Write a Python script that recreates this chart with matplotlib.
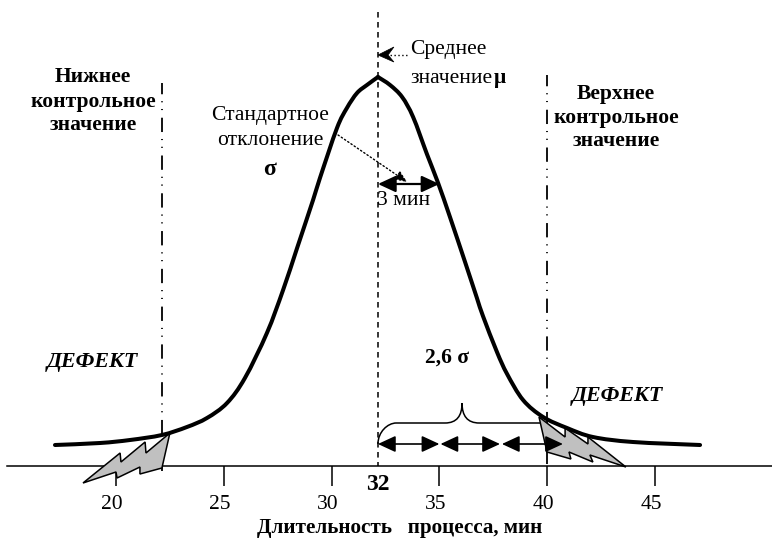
import matplotlib
matplotlib.use("Agg")
import matplotlib.pyplot as plt
from matplotlib.path import Path
from matplotlib.patches import PathPatch, Polygon
from matplotlib.transforms import Affine2D, ScaledTranslation

plt.rcParams['font.family'] = ['Liberation Serif', 'DejaVu Serif']
plt.rcParams['lines.scale_dashes'] = False

# Curve: process duration (min), relative height
left_x = [17.17, 19.26, 20.65, 22.13, 23.29, 24.22, 25.15, 25.98, 27.00, 27.75, 28.40, 29.14,
          29.46, 30.25, 30.71, 31.18, 31.64, 32.15]
left_y = [21, 23, 26, 31, 39, 48, 63, 88, 133, 176, 218, 266,
          288, 338, 358, 373, 381, 389]
right_x = [32.15, 32.71, 33.27, 33.78, 34.42, 34.94, 35.49, 36.19, 36.74, 37.02, 37.67, 38.14,
           38.88, 39.81, 40.92, 42.12, 43.98, 47.09]
right_y = [389, 381, 369, 349, 312, 283, 249, 204, 168, 150, 114, 92,
           66, 49, 38, 29, 24, 21]

tick_values = [20, 25, 30, 35, 40, 45]
tick_labels = ['20', '25', '30', '35', '40', '45']
mean_value = 32.15
mean_label = '32'
lower_limit = 22.13
upper_limit = 39.99

left_bolt_x = [22.50, 22.13, 21.11, 21.11, 20.05, 20.00, 18.47, 20.19, 20.23, 21.35, 21.39]
left_bolt_y = [33, -2, -8, -1, -12, -6, -17, 13, 4, 24, 13]
right_bolt_x = [39.62, 39.99, 41.10, 41.01, 42.12, 41.98, 43.65, 41.89, 41.89, 40.83, 40.83]
right_bolt_y = [49, 14, 7, 14, 4, 11, -1, 29, 22, 38, 29]

sigma_span = [32.15, 35.0]
chain_spans = [(32.15, 35.0), (35.05, 37.81), (37.90, 40.73)]
chain_h = 22
sigma_h = 282

W, H = 772, 539
fig = plt.figure(figsize=(W / 100, H / 100), dpi=100)
ax = fig.add_axes([0, 0, 1, 1])
ax.set_xlim(20 - 116 / 21.56, 20 + (W - 116) / 21.56)
ax.set_ylim(466 - H, 466)
for s in ['top', 'left', 'right']:
    ax.spines[s].set_visible(False)
ax.spines['bottom'].set_position(('data', 0))
ax.spines['bottom'].set_linewidth(1.1)
ax.spines['bottom'].set_bounds(14.95, ax.get_xlim()[1])
ax.yaxis.set_visible(False)
ax.patch.set_visible(False)
ax.set_xticks(tick_values)
ax.set_xticklabels(tick_labels, fontsize=15.5)
ax.tick_params(axis='x', length=14.4, width=1.1, pad=6.5)
shift = ScaledTranslation(-4 / 100, 0, fig.dpi_scale_trans)
for lab in ax.get_xticklabels():
    lab.set_transform(lab.get_transform() + shift)

PX = Affine2D().scale(1, -1).translate(0, H)


def txt(x, y, s, dy=2.5, **kw):
    kw.setdefault('ha', 'center')
    kw.setdefault('va', 'center')
    kw.setdefault('fontsize', 15.5)
    ax.text(x, y + dy, s, transform=PX, **kw)


def smooth(xs, ys):
    """Cubic Bezier path passing through every read point."""
    pts = list(zip(xs, ys))
    verts, codes = [pts[0]], [Path.MOVETO]
    for i in range(len(pts) - 1):
        p0 = pts[max(i - 1, 0)]
        p1 = pts[i]
        p2 = pts[i + 1]
        p3 = pts[min(i + 2, len(pts) - 1)]
        verts += [(p1[0] + (p2[0] - p0[0]) / 6, p1[1] + (p2[1] - p0[1]) / 6),
                  (p2[0] - (p3[0] - p1[0]) / 6, p2[1] - (p3[1] - p1[1]) / 6),
                  p2]
        codes += [Path.CURVE4] * 3
    return Path(verts, codes)


# Reference lines (drawn from the top down)
ax.plot([mean_value, mean_value], [454, 0], color='k', lw=1.1, ls=(0, (4.0, 3.2)), zorder=2)
dd = (2.2, (10.3, 5.0, 0.8, 4.8, 0.8, 5.5))
ax.plot([lower_limit, lower_limit], [383, -5], color='k', lw=1.3, ls=dd, zorder=2)
ax.plot([upper_limit, upper_limit], [391, 0], color='k', lw=1.3, ls=dd, zorder=2)

# Lightning bolts
ax.add_patch(Polygon(list(zip(left_bolt_x, left_bolt_y)), closed=True, fc='#c0c0c0', ec='k', lw=1.1, zorder=3))
ax.add_patch(Polygon(list(zip(right_bolt_x, right_bolt_y)), closed=True, fc='#c0c0c0', ec='k', lw=1.1, zorder=3))

# Curve
for xs, ys in ((left_x, left_y), (right_x, right_y)):
    ax.add_patch(PathPatch(smooth(xs, ys), fc='none', ec='k', lw=2.9, capstyle='round', joinstyle='round', zorder=4))


def dbl(a, b, h, lw):
    ax.annotate('', xy=(b, h), xytext=(a, h), zorder=5,
                arrowprops=dict(arrowstyle='<|-|>,head_length=10.8,head_width=5', mutation_scale=1,
                                shrinkA=0, shrinkB=0, color='k', lw=lw))


dbl(sigma_span[0], sigma_span[1], sigma_h, 1.6)
for a, b in chain_spans:
    dbl(a, b, chain_h, 1.2)

# Brace
verts = [(32.15, 22), (32.15, 34), (32.6, 43), (33.0, 43),
         (35.26, 43), (35.8, 43), (36.05, 50), (36.05, 63),
         (36.05, 50), (36.3, 43), (36.85, 43), (39.67, 43)]
codes = [Path.MOVETO, Path.CURVE4, Path.CURVE4, Path.CURVE4,
         Path.LINETO, Path.CURVE4, Path.CURVE4, Path.CURVE4,
         Path.CURVE4, Path.CURVE4, Path.CURVE4, Path.LINETO]
ax.add_patch(PathPatch(Path(verts, codes), fc='none', ec='k', lw=1.1, zorder=2))

# Leaders
ax.plot([33.5, 32.7], [411, 411], color='k', lw=1.0, ls=(0, (1, 1.8)), zorder=5)
ax.add_patch(Polygon([(32.15, 411), (32.89, 419), (32.62, 411), (32.89, 404)], closed=True, fc='k', ec='k', lw=0.5, zorder=5))
ax.annotate('', xy=(33.5, 284), xytext=(30.3, 331),
            arrowprops=dict(arrowstyle='-|>,head_length=7,head_width=3', mutation_scale=1, shrinkA=0, shrinkB=0,
                            color='k', lw=1.0, ls=(0, (1, 1.8))), zorder=5)

# Text
for y, s in ((75, 'Нижнее'), (100, 'контрольное'), (124, 'значение')):
    txt(93, y, s, dy=1.5, fontweight='bold')
for y, s in ((92, 'Верхнее'), (116, 'контрольное'), (140, 'значение')):
    txt(616, y, s, dy=1.5, fontweight='bold')
txt(410, 47, 'Среднее', ha='left')
txt(410, 76, 'значение', ha='left')
txt(494, 76, 'μ', ha='left', fontweight='bold')
txt(270, 113, 'Стандартное')
txt(270, 138, 'отклонение')
txt(270, 167, 'σ', fontweight='bold', fontsize=17)
txt(404, 198, '3 мин')
txt(92, 360, 'ДЕФЕКТ', fontweight='bold', fontstyle='italic', fontsize=15.8)
txt(617, 394, 'ДЕФЕКТ', fontweight='bold', fontstyle='italic', fontsize=15.8)
txt(447, 355, '2,6 σ', fontweight='bold', fontsize=15.5)
txt(378, 484, mean_label, dy=0, fontweight='bold', fontsize=17)
txt(400, 528, 'Длительность   процесса, мин', dy=0, fontweight='bold', fontsize=15.2)

fig.savefig('out.png', dpi=100)
